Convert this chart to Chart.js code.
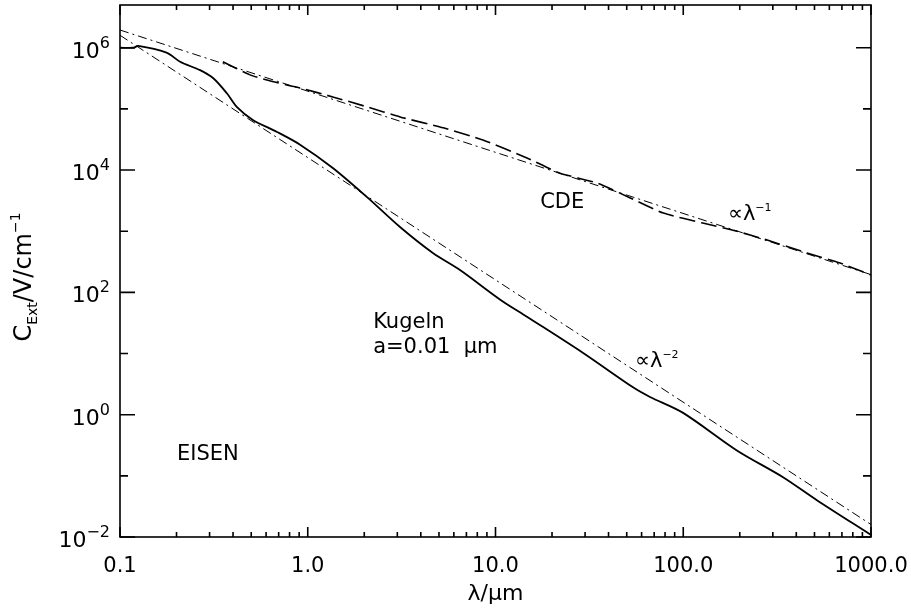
<!DOCTYPE html>
<html>
<head>
<meta charset="utf-8">
<script src="https://cdn.jsdelivr.net/npm/chart.js@4.4.1/dist/chart.umd.min.js"></script>
<style>
  html, body { margin: 0; padding: 0; background: #fff; }
</style>
</head>
<body>
<canvas id="chart" width="911" height="610"></canvas>
<script>
// Kugeln (spheres), a = 0.01 um
const sphereLambda = [0.1, 0.118, 0.125, 0.177, 0.209, 0.267, 0.313, 0.371, 0.42, 0.51, 0.686, 0.91, 1.36, 2.07, 3.1, 4.64, 6.47, 10.6, 14.7, 29.3, 54, 66.5, 99.8, 193, 340, 515, 1000];
const sphereCext = [1.0e6, 1.0e6, 1.07e6, 8.3e5, 5.9e5, 4.3e5, 3.2e5, 1.8e5, 1.07e5, 6.6e4, 4.2e4, 2.6e4, 1.08e4, 3.6e3, 1.17e3, 440, 232, 76, 40, 10.2, 2.8, 1.95, 1.07, 0.26, 0.095, 0.04, 0.0108];

// CDE
const cdeLambda = [0.353, 0.493, 0.606, 0.773, 0.91, 1.36, 2.07, 3.1, 5.27, 8.57, 14.7, 21.9, 34.9, 52.2, 78.4, 127, 184, 280, 456, 685, 1000];
const cdeCext = [5.9e5, 3.6e5, 2.97e5, 2.46e5, 2.2e5, 1.57e5, 1.08e5, 7.4e4, 4.9e4, 3.1e4, 1.58e4, 8.96e3, 6.1e3, 3.5e3, 1.98e3, 1.36e3, 1.04e3, 716, 440, 301, 193];

// power laws
const powerLambda = [0.1, 1000];
const lambdaMinus1 = [1.95e6, 195];
const lambdaMinus2 = [1.6e6, 0.016];

// axes
const xTicks = [0.1, 1, 10, 100, 1000];
const xTickLabels = ['0.1', '1.0', '10.0', '100.0', '1000.0'];
const yTicks = [1e-2, 1, 1e2, 1e4, 1e6];
const yTickExps = ['\u22122', '0', '2', '4', '6'];
const yMinorTicks = [1e-1, 1e1, 1e3, 1e5];

const FONT = '"DejaVu Sans"';

function pts(xs, ys) {
  return xs.map((v, i) => ({ x: v, y: ys[i] }));
}

// parts: [text, size, raise]
function drawParts(ctx, parts, x, y, align) {
  let w = 0;
  parts.forEach(p => { ctx.font = p[1] + 'px ' + FONT; w += ctx.measureText(p[0]).width; });
  let cx = align === 'right' ? x - w : align === 'center' ? x - w / 2 : x;
  parts.forEach(p => {
    ctx.font = p[1] + 'px ' + FONT;
    ctx.fillText(p[0], cx, y - (p[2] || 0));
    cx += ctx.measureText(p[0]).width;
  });
}

const notes = [
  { parts: [['CDE', 21]], x: 17.3, y: 2.4e3 },
  { parts: [['\u221dλ', 21], ['\u22121', 11, 9]], x: 173, y: 1.5e3 },
  { parts: [['\u221dλ', 21], ['\u22122', 11, 9]], x: 55.3, y: 6.0 },
  { parts: [['Kugeln', 21]], x: 2.23, y: 26 },
  { parts: [['a=0.01  μm', 21]], x: 2.23, y: 10.2 },
  { parts: [['EISEN', 21]], x: 0.201, y: 0.18 }
];

const frame = {
  id: 'frame',
  afterDatasetsDraw(chart) {
    const { ctx, chartArea: a, scales: { x, y } } = chart;
    ctx.save();
    ctx.strokeStyle = '#000';
    ctx.fillStyle = '#000';
    ctx.lineWidth = 1.6;
    ctx.strokeRect(a.left, a.top, a.right - a.left, a.bottom - a.top);

    ctx.beginPath();
    const seg = (x1, y1, x2, y2) => { ctx.moveTo(x1, y1); ctx.lineTo(x2, y2); };
    // x ticks, inward on bottom and top
    xTicks.forEach(v => {
      const px = x.getPixelForValue(v);
      seg(px, a.bottom, px, a.bottom - 10);
      seg(px, a.top, px, a.top + 10);
    });
    xTicks.slice(0, -1).forEach(d => {
      for (let m = 2; m <= 9; m++) {
        const px = x.getPixelForValue(d * m);
        seg(px, a.bottom, px, a.bottom - 5);
        seg(px, a.top, px, a.top + 5);
      }
    });
    // y ticks, inward on left and right
    yTicks.forEach(v => {
      const py = y.getPixelForValue(v);
      seg(a.left, py, a.left + 15, py);
      seg(a.right, py, a.right - 15, py);
    });
    yMinorTicks.forEach(v => {
      const py = y.getPixelForValue(v);
      seg(a.left, py, a.left + 8, py);
      seg(a.right, py, a.right - 8, py);
    });
    ctx.stroke();

    ctx.textBaseline = 'alphabetic';
    // x tick labels
    xTicks.forEach((v, i) => {
      drawParts(ctx, [[xTickLabels[i], 21]], x.getPixelForValue(v), a.bottom + 35, 'center');
    });
    // y tick labels
    yTicks.forEach((v, i) => {
      const py = y.getPixelForValue(v);
      ctx.font = '16px ' + FONT;
      const ew = ctx.measureText(yTickExps[i]).width;
      drawParts(ctx, [['10', 22]], a.left - 10 - ew, py + 10, 'right');
      drawParts(ctx, [[yTickExps[i], 16]], a.left - 10 - ew, py, 'left');
    });

    // axis titles
    drawParts(ctx, [['λ/μm', 22]], (a.left + a.right) / 2, 600, 'center');
    ctx.save();
    ctx.translate(31, 277);
    ctx.rotate(-Math.PI / 2);
    drawParts(ctx, [['C', 24], ['Ext', 14, -6], ['/V/cm', 24], ['\u22121', 14, 11]], 0, 0, 'center');
    ctx.restore();

    // annotations
    notes.forEach(n => {
      drawParts(ctx, n.parts, x.getPixelForValue(n.x), y.getPixelForValue(n.y), 'left');
    });
    ctx.restore();
  }
};

new Chart(document.getElementById('chart'), {
  type: 'scatter',
  data: {
    datasets: [
      {
        label: 'Kugeln',
        data: pts(sphereLambda, sphereCext),
        showLine: true, borderColor: '#000', borderWidth: 1.8, pointRadius: 0, tension: 0.3
      },
      {
        label: 'CDE',
        data: pts(cdeLambda, cdeCext),
        showLine: true, borderColor: '#000', borderWidth: 1.6, borderDash: [16, 6], pointRadius: 0, tension: 0.2
      },
      {
        label: 'λ^-1',
        data: pts(powerLambda, lambdaMinus1),
        showLine: true, borderColor: '#000', borderWidth: 1, borderDash: [9, 4, 2, 4], pointRadius: 0
      },
      {
        label: 'λ^-2',
        data: pts(powerLambda, lambdaMinus2),
        showLine: true, borderColor: '#000', borderWidth: 1, borderDash: [9, 4, 2, 4], pointRadius: 0
      }
    ]
  },
  options: {
    responsive: false,
    animation: false,
    devicePixelRatio: 1,
    layout: { padding: { left: 120, right: 40, top: 5, bottom: 73 } },
    scales: {
      x: { type: 'logarithmic', min: 0.1, max: 1000, display: false },
      y: { type: 'logarithmic', min: 0.01, max: 5e6, display: false }
    },
    plugins: {
      legend: { display: false },
      tooltip: { enabled: false }
    }
  },
  plugins: [frame]
});
</script>
</body>
</html>
